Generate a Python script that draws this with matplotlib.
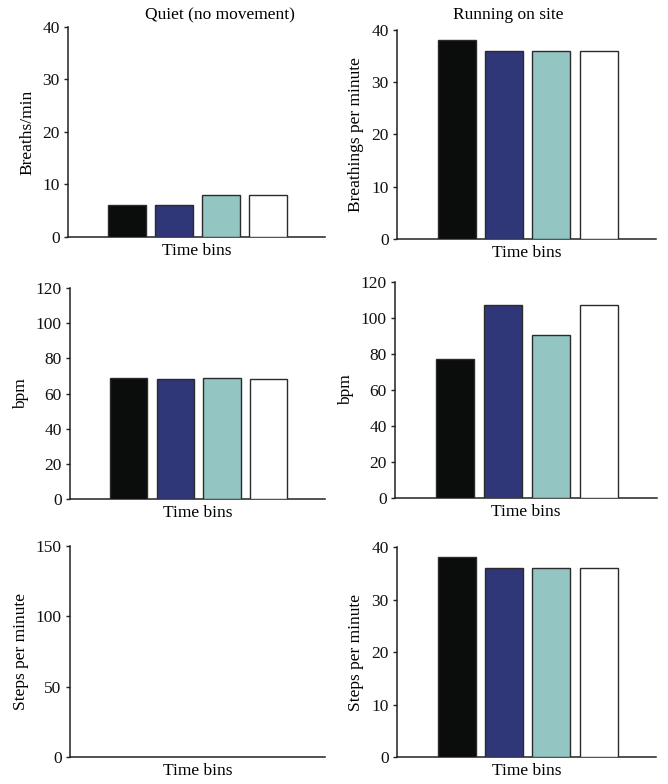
import matplotlib.pyplot as plt

plt.rcParams['font.family'] = ['Liberation Serif', 'DejaVu Serif']
plt.rcParams['font.size'] = 12.5

# Data (four time bins per panel)
bins = [0, 1, 2, 3]
colors = ['#0a0d0c', '#2f3778', '#93c6c2', '#ffffff']

quiet_breaths = [6, 6, 8, 8]
running_breaths = [38, 36, 36, 36]
quiet_bpm = [69, 68.5, 69, 68]
running_bpm = [77.5, 107, 90.5, 107]
quiet_steps = []  # no bars shown
running_steps = [38, 36, 36, 36]

ylabels = ['Breaths/min', 'Breathings per minute', 'bpm', 'bpm',
           'Steps per minute', 'Steps per minute']
ylims = [40, 40, 120, 120, 150, 40]
yticks = [[0, 10, 20, 30, 40], [0, 10, 20, 30, 40],
          [0, 20, 40, 60, 80, 100, 120], [0, 20, 40, 60, 80, 100, 120],
          [0, 50, 100, 150], [0, 10, 20, 30, 40]]
series = [quiet_breaths, running_breaths, quiet_bpm, running_bpm,
          quiet_steps, running_steps]

# axes rectangles [left, bottom, width, height] in figure fraction
rects = [
    [0.1018, 0.6977, 0.3847, 0.2679],
    [0.5943, 0.6952, 0.3877, 0.2666],
    [0.1048, 0.3635, 0.3817, 0.2691],
    [0.5913, 0.3648, 0.3922, 0.2755],
    [0.1048, 0.0344, 0.3817, 0.2691],
    [0.5943, 0.0344, 0.3877, 0.2679],
]

fig = plt.figure(figsize=(6.68, 7.84), dpi=100)

for rect, vals, yl, ymax, ticks in zip(rects, series, ylabels, ylims, yticks):
    ax = fig.add_axes(rect)
    if vals:
        ax.bar(bins, vals, width=0.8, color=colors, edgecolor='#2b2b2b',
               linewidth=1.0, zorder=3)
    ax.set_xlim(-1.26, 4.21)
    ax.set_ylim(0, ymax)
    ax.set_yticks(ticks)
    ax.set_xticks([])
    ax.set_ylabel(yl, labelpad=5)
    ax.set_xlabel('Time bins', labelpad=4)
    for s in ['top', 'right']:
        ax.spines[s].set_visible(False)
    for s in ['left', 'bottom']:
        ax.spines[s].set_linewidth(1.1)
        ax.spines[s].set_color('#222222')
    ax.tick_params(axis='y', length=3, width=1, pad=3, color='#222222',
                   labelcolor='#111111')

fig.text(220 / 668, 1 - 15 / 784, 'Quiet (no movement)', ha='center', va='center')
fig.text(508 / 668, 1 - 15 / 784, 'Running on site', ha='center', va='center')

fig.savefig('out.png', dpi=100)
